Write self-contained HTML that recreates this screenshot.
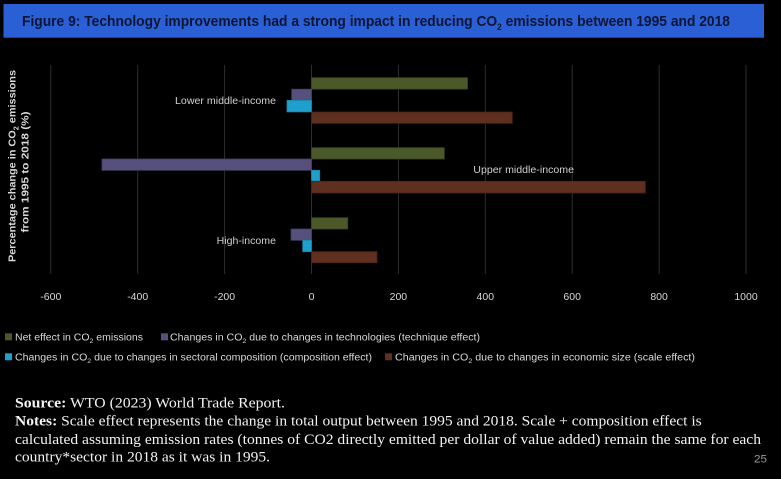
<!DOCTYPE html>
<html><head><meta charset="utf-8"><style>
html,body{margin:0;padding:0;background:#000;}
svg{display:block;}
</style></head><body>
<svg width="781" height="479" viewBox="0 0 781 479" xmlns="http://www.w3.org/2000/svg">
<rect x="0" y="0" width="781" height="479" fill="#000"/>
<!-- title bar -->
<rect x="3.5" y="4" width="760.5" height="33.7" fill="#2a5fd6"/>
<text x="22" y="26" font-family="Liberation Sans, sans-serif" font-weight="bold" font-size="15" fill="#0e1633" textLength="708" lengthAdjust="spacingAndGlyphs">Figure 9: Technology improvements had a strong impact in reducing CO<tspan font-size="9" dy="4">2</tspan><tspan dy="-4"> emissions between 1995 and 2018</tspan></text>

<!-- gridlines -->
<g stroke="#2e2e2e" stroke-width="1">
<line x1="50.8" y1="65" x2="50.8" y2="274"/>
<line x1="137.7" y1="65" x2="137.7" y2="274"/>
<line x1="224.6" y1="65" x2="224.6" y2="274"/>
<line x1="311.5" y1="65" x2="311.5" y2="274"/>
<line x1="398.4" y1="65" x2="398.4" y2="274"/>
<line x1="485.3" y1="65" x2="485.3" y2="274"/>
<line x1="572.2" y1="65" x2="572.2" y2="274"/>
<line x1="659.1" y1="65" x2="659.1" y2="274"/>
<line x1="746" y1="65" x2="746" y2="274"/>
</g>

<!-- bars -->
<g stroke-width="0.8">
<rect x="311.5" y="77.7" width="156" height="11.4" fill="#4a582a" stroke="#3a4620"/>
<rect x="291.7" y="89.2" width="19.8" height="11.2" fill="#56507c" stroke="#443f66"/>
<rect x="287" y="100.4" width="24.5" height="11.5" fill="#1f9fcb" stroke="#1a86ad"/>
<rect x="311.5" y="112" width="200.8" height="11.3" fill="#5f2f20" stroke="#4c2418"/>

<rect x="311.5" y="147.7" width="132.8" height="11.3" fill="#4a582a" stroke="#3a4620"/>
<rect x="102" y="159" width="209.5" height="11.3" fill="#56507c" stroke="#443f66"/>
<rect x="311.5" y="170.3" width="8.2" height="11" fill="#1f9fcb" stroke="#1a86ad"/>
<rect x="311.5" y="181.3" width="333.8" height="11.7" fill="#5f2f20" stroke="#4c2418"/>

<rect x="311.5" y="217.7" width="36.2" height="11.3" fill="#4a582a" stroke="#3a4620"/>
<rect x="291" y="229" width="20.5" height="11.3" fill="#56507c" stroke="#443f66"/>
<rect x="302.7" y="240.3" width="8.8" height="11.4" fill="#1f9fcb" stroke="#1a86ad"/>
<rect x="311.5" y="251.7" width="65.5" height="11" fill="#5f2f20" stroke="#4c2418"/>
</g>

<!-- category labels -->
<g font-family="Liberation Sans, sans-serif" font-size="10.5" fill="#cfcfcf">
<text x="175" y="104" textLength="101" lengthAdjust="spacingAndGlyphs">Lower middle-income</text>
<text x="473.3" y="173" textLength="100.7" lengthAdjust="spacingAndGlyphs">Upper middle-income</text>
<text x="216.7" y="244" textLength="59.3" lengthAdjust="spacingAndGlyphs">High-income</text>
</g>

<!-- y axis title -->
<g font-family="Liberation Sans, sans-serif" font-weight="bold" font-size="10.5" fill="#d8d8d8" text-anchor="middle">
<text transform="translate(15.5,166) rotate(-90)" textLength="192" lengthAdjust="spacingAndGlyphs">Percentage change in CO<tspan font-size="7" dy="3">2</tspan><tspan dy="-3"> emissions</tspan></text>
<text transform="translate(28.5,172) rotate(-90)" textLength="121" lengthAdjust="spacingAndGlyphs">from 1995 to 2018 (%)</text>
</g>

<!-- tick labels -->
<g font-family="Liberation Sans, sans-serif" font-size="10.5" fill="#d8d8d8" text-anchor="middle">
<text x="50.8" y="300">-600</text>
<text x="137.7" y="300">-400</text>
<text x="224.6" y="300">-200</text>
<text x="311.5" y="300">0</text>
<text x="398.4" y="300">200</text>
<text x="485.3" y="300">400</text>
<text x="572.2" y="300">600</text>
<text x="659.1" y="300">800</text>
<text x="746" y="300">1000</text>
</g>

<!-- legend -->
<rect x="5" y="333.3" width="7" height="7" fill="#4a582a"/>
<rect x="161" y="333.3" width="7" height="7" fill="#56507c"/>
<rect x="5" y="353.3" width="7" height="7" fill="#1f9fcb"/>
<rect x="385" y="353.3" width="7" height="7" fill="#5f2f20"/>
<g font-family="Liberation Sans, sans-serif" font-size="10" fill="#d8d8d8">
<text x="15" y="340.3" textLength="128" lengthAdjust="spacingAndGlyphs">Net effect in CO<tspan font-size="6.5" dy="2.5">2</tspan><tspan dy="-2.5"> emissions</tspan></text>
<text x="170" y="340.3" textLength="310" lengthAdjust="spacingAndGlyphs">Changes in CO<tspan font-size="6.5" dy="2.5">2</tspan><tspan dy="-2.5"> due to changes in technologies (technique effect)</tspan></text>
<text x="15" y="360.3" textLength="357" lengthAdjust="spacingAndGlyphs">Changes in CO<tspan font-size="6.5" dy="2.5">2</tspan><tspan dy="-2.5"> due to changes in sectoral composition (composition effect)</tspan></text>
<text x="395" y="360.3" textLength="300" lengthAdjust="spacingAndGlyphs">Changes in CO<tspan font-size="6.5" dy="2.5">2</tspan><tspan dy="-2.5"> due to changes in economic size (scale effect)</tspan></text>
</g>

<!-- notes -->
<g font-family="Liberation Serif, serif" font-size="14.5" fill="#f2f2f2">
<text x="15" y="407.3" textLength="270" lengthAdjust="spacingAndGlyphs"><tspan font-weight="bold">Source:</tspan> WTO (2023) World Trade Report.</text>
<text x="15" y="425.7" textLength="686.7" lengthAdjust="spacingAndGlyphs"><tspan font-weight="bold">Notes:</tspan> Scale effect represents the change in total output between 1995 and 2018. Scale + composition effect is</text>
<text x="15" y="444" textLength="746" lengthAdjust="spacingAndGlyphs">calculated assuming emission rates (tonnes of  CO2 directly emitted per dollar of  value added) remain the same for each</text>
<text x="15" y="461.7" textLength="255" lengthAdjust="spacingAndGlyphs">country*sector in 2018 as it was in 1995.</text>
</g>
<text x="754" y="462.7" font-family="Liberation Sans, sans-serif" font-size="11" fill="#9a9a9a" textLength="13" lengthAdjust="spacingAndGlyphs">25</text>
</svg>
</body></html>
